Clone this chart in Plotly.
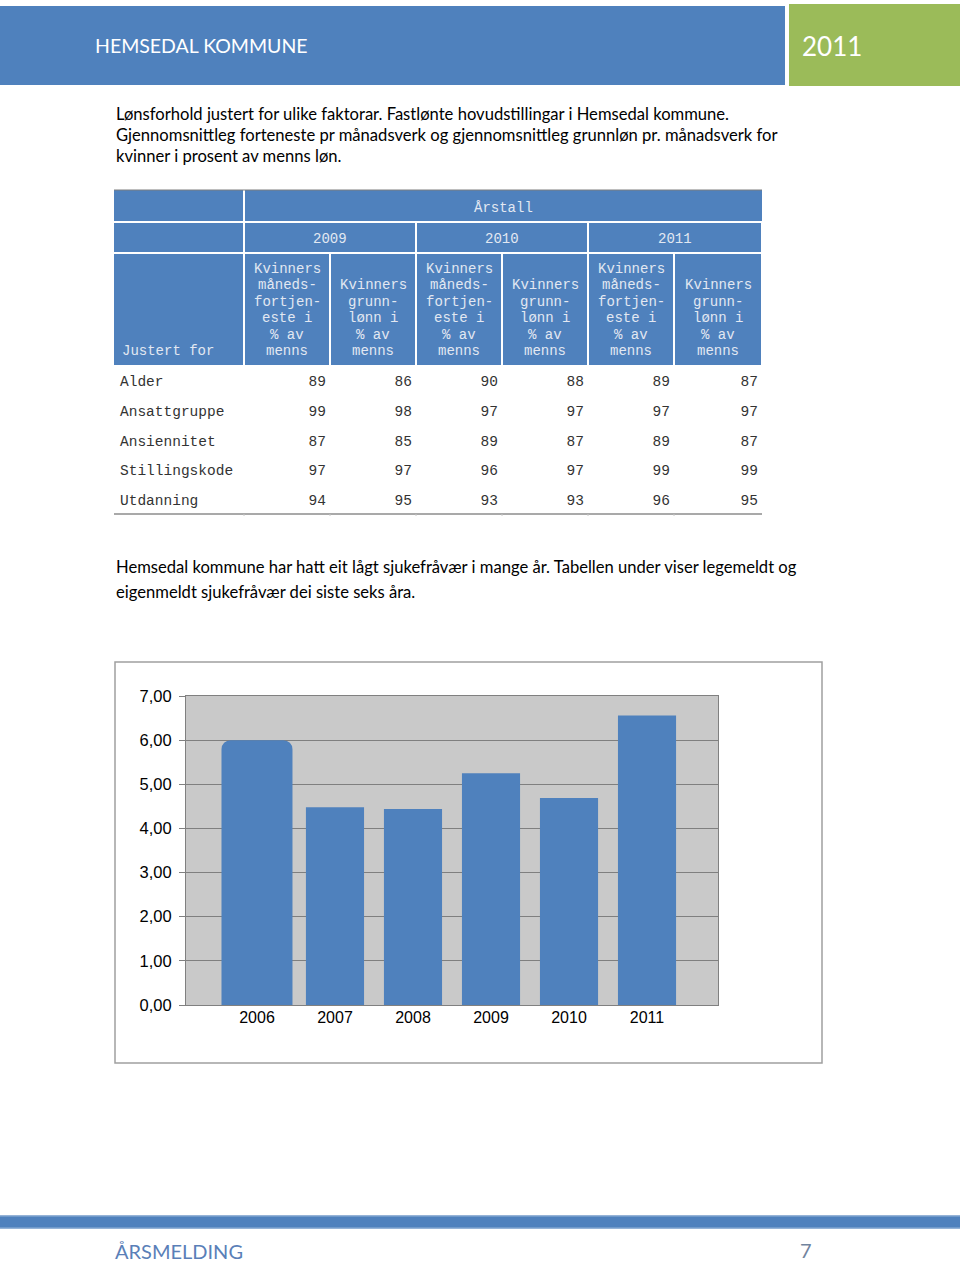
import plotly.graph_objects as go

W, H = 960, 1264

def px(x):
    return x / W

def py(y):
    return 1 - y / H

# ---------------- data ----------------
years = ["2006", "2007", "2008", "2009", "2010", "2011"]
sick_leave = [6.00, 4.48, 4.44, 5.25, 4.69, 6.56]
y_ticks = [0, 1, 2, 3, 4, 5, 6, 7]

factors = ["Alder", "Ansattgruppe", "Ansiennitet", "Stillingskode", "Utdanning"]
fortj_2009 = [89, 99, 87, 97, 94]
grunn_2009 = [86, 98, 85, 97, 95]
fortj_2010 = [90, 97, 89, 96, 93]
grunn_2010 = [88, 97, 87, 97, 93]
fortj_2011 = [89, 97, 89, 99, 96]
grunn_2011 = [87, 97, 87, 99, 95]
table_years = ["2009", "2010", "2011"]
hdr_fortj = ["Kvinners", "måneds-", "fortjen-", "este i", "% av", "menns"]
hdr_grunn = ["Kvinners", "grunn-", "lønn i", "% av", "menns"]
value_columns = [fortj_2009, grunn_2009, fortj_2010, grunn_2010, fortj_2011, grunn_2011]

BLUE = "#4f81bd"
GREEN = "#9bbb59"
HDR_TXT = "#e2e8f2"
BODY_TXT = "#333333"
MONO = "Liberation Mono, Courier New, monospace"
SANS = "Lato, Calibri, sans-serif"
ARIAL = "Liberation Sans, Arial, sans-serif"

fig = go.Figure()

# ---------------- bar chart ----------------
fig.add_trace(go.Bar(
    x=years[:1], y=sick_leave[:1], width=0.91,
    marker=dict(color=BLUE, cornerradius=9, line=dict(width=0)),
    showlegend=False, hoverinfo="x+y",
))
fig.add_trace(go.Bar(
    x=years[1:], y=sick_leave[1:], width=0.745,
    marker=dict(color=BLUE, line=dict(width=0)),
    showlegend=False, hoverinfo="x+y",
))

# ---------------- table (geometry) ----------------
col_edges = [114, 244, 330, 416, 502, 588, 674, 762]  # pixel column boundaries
T_LEFT, T_RIGHT = col_edges[0], col_edges[-1]
ROW1 = (190, 221)
ROW2 = (223, 252)
ROW3 = (254, 365)
BODY_TOP, BODY_BOT = 366, 514

shapes = []
annotations = []

def rect(x0, y0, x1, y1, color):
    shapes.append(dict(type="rect", xref="paper", yref="paper", x0=px(x0), x1=px(x1),
                       y0=py(y1), y1=py(y0), fillcolor=color, line=dict(width=0), layer="below"))

def line(x0, y0, x1, y1, color, width):
    shapes.append(dict(type="line", xref="paper", yref="paper", x0=px(x0), x1=px(x1),
                       y0=py(y0), y1=py(y1), line=dict(color=color, width=width)))

def txt(x, y, s, size, color="black", family=SANS, anchor="left"):
    annotations.append(dict(xref="paper", yref="paper", x=px(x), y=py(y), text=s, showarrow=False,
                            xanchor=anchor, yanchor="middle", font=dict(family=family, size=size, color=color)))

# header cells
rect(T_LEFT, ROW1[0], col_edges[1] - 1, ROW1[1], BLUE)
rect(col_edges[1] + 1, ROW1[0], T_RIGHT, ROW1[1], BLUE)
txt((col_edges[1] + T_RIGHT) / 2, 207.5, "Årstall", 14, HDR_TXT, MONO, "center")

rect(T_LEFT, ROW2[0], col_edges[1] - 1, ROW2[1], BLUE)
for i, yr in enumerate(table_years):
    a, b = col_edges[1 + 2 * i], col_edges[3 + 2 * i]
    rect(a + 1, ROW2[0], b - 1, ROW2[1], BLUE)
    txt((a + b) / 2, 238.5, yr, 14, HDR_TXT, MONO, "center")

rect(T_LEFT, ROW3[0], col_edges[1] - 1, ROW3[1], BLUE)
txt(120, 351, "Justert for", 14, HDR_TXT, MONO, "left")
LINE_Y0, LINE_DY = 269, 16.4
for c in range(6):
    a, b = col_edges[1 + c], col_edges[2 + c]
    rect(a + 1, ROW3[0], b - 1, ROW3[1], BLUE)
    lines = hdr_fortj if c % 2 == 0 else hdr_grunn
    start = 0 if c % 2 == 0 else 1
    for k, s in enumerate(lines):
        txt((a + b) / 2, LINE_Y0 + (start + k) * LINE_DY, s, 14, HDR_TXT, MONO, "center")

line(T_LEFT, 190, T_RIGHT, 190, "#7f7f7f", 1.2)
line(T_LEFT, BODY_BOT, T_RIGHT, BODY_BOT, "#8c8c8c", 1.5)
for e in col_edges[1:-1]:
    line(e, BODY_BOT, e, BODY_BOT + 2, "#c8c8c8", 1)

# table body through its own axes (x: pixel offset within table, y: row index)
n_rows = len(factors)
row_centres = [i + 0.5 for i in range(n_rows)]
fig.add_trace(go.Scatter(
    x=[6] * n_rows, y=row_centres, text=factors, mode="text", textposition="middle right",
    textfont=dict(family=MONO, size=14.5, color=BODY_TXT), xaxis="x2", yaxis="y2",
    showlegend=False, hoverinfo="skip",
))
for c, vals in enumerate(value_columns):
    right = col_edges[2 + c] - T_LEFT - 4
    fig.add_trace(go.Scatter(
        x=[right] * n_rows, y=row_centres, text=[str(v) for v in vals], mode="text",
        textposition="middle left", textfont=dict(family=MONO, size=14.5, color=BODY_TXT),
        xaxis="x2", yaxis="y2", showlegend=False, hoverinfo="skip",
    ))

# ---------------- page decoration ----------------
rect(0, 6, 785, 85, BLUE)
rect(789, 4, 960, 86, GREEN)
shapes.append(dict(type="rect", xref="paper", yref="paper", x0=px(115), x1=px(822), y0=py(1063), y1=py(662),
                   fillcolor="rgba(0,0,0,0)", line=dict(color="#a0a0a0", width=1.5)))
rect(0, 1215, 960, 1229, "#95b3d7")
rect(0, 1216.5, 960, 1227.5, BLUE)
# chart plot-area background (below gridlines)
shapes.append(dict(type="rect", xref="x domain", yref="y domain", x0=0, x1=1, y0=0, y1=1,
                   fillcolor="#c9c9c9", line=dict(width=0), layer="below"))

txt(93, 46, "HEMSEDAL KOMMUNE", 19.5, "white")
txt(800, 46, "2011", 26, "white")
txt(114, 114, "Lønsforhold justert for ulike faktorar. Fastlønte hovudstillingar i Hemsedal kommune.", 16.6)
txt(114, 135, "Gjennomsnittleg forteneste pr månadsverk og gjennomsnittleg grunnløn pr. månadsverk for", 16.6)
txt(114, 156, "kvinner i prosent av menns løn.", 16.6)
txt(114, 567, "Hemsedal kommune har hatt eit lågt sjukefråvær i mange år. Tabellen under viser legemeldt og", 16.6)
txt(114, 592, "eigenmeldt sjukefråvær dei siste seks åra.", 16.6)
txt(113, 1251, "ÅRSMELDING", 20, "#5a7fb8")
txt(798, 1250, "7", 20, "#71849e")

fig.update_layout(
    width=W, height=H, autosize=False,
    margin=dict(l=0, r=0, t=0, b=0, pad=0, autoexpand=False),
    paper_bgcolor="white", plot_bgcolor="white",
    separators=",.",
    barmode="overlay",
    shapes=shapes, annotations=annotations,
    showlegend=False,
    xaxis=dict(domain=[px(186), px(718)], type="category", range=[-0.91, 5.91],
               showgrid=False, ticks="", showline=True, linecolor="#808080", linewidth=1,
               mirror=True, tickfont=dict(family=ARIAL, size=16, color="black"),
               ticklabelstandoff=-2, fixedrange=True),
    yaxis=dict(domain=[py(1005), py(696)], range=[0, 7], tickvals=y_ticks, tickformat=".2f",
               showgrid=True, gridcolor="#7f7f7f", gridwidth=1, zeroline=False,
               ticks="outside", ticklen=6, tickcolor="#808080",
               showline=True, linecolor="#808080", linewidth=1, mirror=True,
               ticklabelstandoff=4,
               tickfont=dict(family=ARIAL, size=16.5, color="black"), fixedrange=True),
    xaxis2=dict(domain=[px(T_LEFT), px(T_RIGHT)], range=[0, T_RIGHT - T_LEFT], visible=False,
                fixedrange=True, anchor="y2"),
    yaxis2=dict(domain=[py(BODY_BOT + 2), py(BODY_TOP + 2)], range=[n_rows, 0], visible=False,
                fixedrange=True, anchor="x2"),
)

fig.write_html("out.html")
